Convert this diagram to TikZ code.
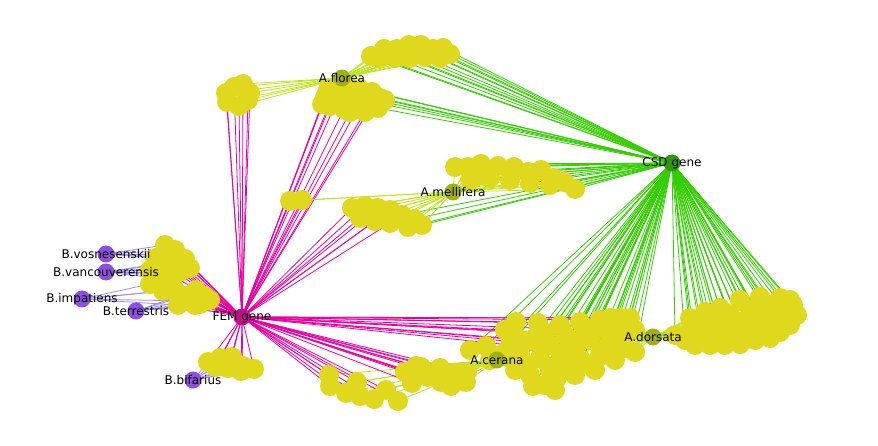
\documentclass[tikz,border=0pt]{standalone}
\usepackage{fontspec}
\setmainfont{DejaVu Sans}
\usepackage{tikz}
\usetikzlibrary{backgrounds}
\definecolor{leafyellow}{HTML}{DFD81C}
\definecolor{femnode}{HTML}{C0108A}
\definecolor{femedge}{HTML}{E800A0}
\definecolor{csdnode}{HTML}{2E9A0A}
\definecolor{csdedge}{HTML}{33CC00}
\definecolor{apisnode}{HTML}{A2B010}
\definecolor{apisedge}{HTML}{BCE414}
\definecolor{bombnode}{HTML}{8E4FE0}
\definecolor{bombedge}{HTML}{9C8CF0}
\tikzset{
	leaf/.style={circle, fill=leafyellow, minimum size=20pt, inner sep=0pt},
	hub/.style={circle, minimum size=17pt, inner sep=0pt, label={[font=\fontsize{12}{14}\selectfont, text=black]center:#1}},
	gene fem/.style={hub=#1, fill=femnode},
	gene csd/.style={hub=#1, fill=csdnode},
	apis/.style={hub=#1, fill=apisnode},
	bomb/.style={hub=#1, fill=bombnode},
	e-fem/.style={femedge, line width=0.8pt},
	e-csd/.style={csdedge, line width=0.8pt},
	apis edge/.style={apisedge, line width=0.8pt},
	bomb edge/.style={bombedge, line width=0.8pt},
	e-flo/.style={apis edge}, e-mel/.style={apis edge}, e-cer/.style={apis edge}, e-dor/.style={apis edge},
	e-vos/.style={bomb edge}, e-van/.style={bomb edge}, e-imp/.style={bomb edge}, e-ter/.style={bomb edge}, e-bif/.style={bomb edge}
}
% leaves: x/y/species/gene
\def\leaflist{%
371/56/flo/csd, 384/49/flo/csd, 397/49/flo/csd, 409/45/flo/csd, 421/45/flo/csd, 433/49/flo/csd, 443/48/flo/csd, 450/54/flo/csd, 380/58/flo/csd, 395/58/flo/csd, 410/58/flo/csd, 425/57/flo/csd, 440/58/flo/csd,
325/97/flo/fem, 336/88/flo/fem, 348/86/flo/csd, 360/89/flo/csd, 372/92/flo/csd, 380/98/flo/csd, 330/106/flo/fem, 344/109/flo/fem, 358/108/flo/fem, 372/105/flo/fem, 352/98/flo/csd, 338/98/flo/fem, 365/98/flo/csd,
328/90/flo/fem, 378/108/flo/csd, 385/100/flo/csd, 350/112/flo/fem, 365/112/flo/fem, 322/104/flo/fem,
226/93/flo/fem, 234/87/flo/fem, 243/84/flo/fem, 250/93/flo/fem, 227/102/flo/fem, 239/106/flo/fem, 248/100/flo/fem,
290/201/mel/fem, 302/200/mel/fem,
455/167/mel/csd, 468/167/mel/csd, 481/164/mel/csd, 498/166/mel/csd, 514/167/mel/csd, 528/172/mel/csd, 541/170/mel/csd, 553/178/mel/csd, 564/182/mel/csd, 575/189/mel/csd, 470/180/mel/csd, 490/178/mel/csd, 510/180/mel/csd, 530/183/mel/csd, 550/185/mel/csd, 480/175/mel/csd,
352/208/mel/fem, 365/206/mel/fem, 378/208/mel/fem, 390/210/mel/fem, 402/215/mel/csd, 414/219/mel/csd, 422/225/mel/csd, 360/218/mel/fem, 375/221/mel/fem, 390/223/mel/fem, 408/227/mel/csd,
165/245/vos/fem, 175/250/vos/fem, 185/259/vos/fem, 155/258/vos/fem, 170/262/van/fem, 180/272/van/fem, 158/275/van/fem, 172/280/van/fem, 150/284/imp/fem, 163/291/imp/fem, 185/296/ter/fem, 196/290/ter/fem, 205/296/ter/fem, 187/301/imp/fem, 200/304/ter/fem,
165/255/vos/fem, 178/262/van/fem, 160/268/van/fem, 175/290/imp/fem, 190/268/van/fem, 195/305/ter/fem, 210/300/ter/fem, 178/305/imp/fem, 150/270/van/fem,
208/362/bif/fem, 220/358/bif/fem, 232/357/bif/fem, 243/366/bif/fem, 254/369/bif/fem, 216/367/bif/fem, 228/368/bif/fem, 241/371/bif/fem,
329/375/cer/fem, 330/386/cer/fem, 346/393/cer/fem, 357/382/cer/fem, 360/396/cer/fem, 374/399/cer/fem, 386/390/cer/fem, 398/401/cer/fem, 405/372/cer/fem, 416/366/cer/fem, 428/377/cer/fem, 441/382/cer/fem, 451/386/cer/fem, 466/382/cer/fem, 412/383/cer/fem, 421/367/cer/fem, 455/373/cer/fem, 467/372/cer/fem, 440/368/cer/fem,
470/350/cer/csd, 486/346/cer/csd, 500/355/cer/csd, 515/370/cer/csd, 520/355/cer/csd, 530/375/cer/csd, 533/386/cer/csd, 540/358/cer/csd, 550/370/cer/csd, 557/378/cer/csd, 560/360/cer/csd, 570/368/cer/csd, 580/358/cer/csd, 590/365/cer/csd,
540/345/cer/csd, 555/390/cer/csd, 545/385/cer/csd, 575/375/cer/csd, 565/352/cer/csd, 490/360/cer/csd, 525/365/cer/csd,
516/322/cer/fem, 530/340/cer/fem, 538/323/cer/fem, 550/345/cer/fem, 520/340/cer/fem, 505/330/cer/fem, 545/333/cer/fem, 510/345/cer/fem,
560/325/dor/csd, 570/340/dor/csd, 580/322/dor/csd, 590/340/dor/csd, 600/355/dor/csd, 610/342/dor/csd, 615/360/dor/csd, 625/348/dor/csd, 635/352/dor/csd, 635/330/dor/csd,
595/330/dor/csd, 610/330/dor/csd, 625/335/dor/csd, 575/350/dor/csd, 605/350/dor/csd, 620/325/dor/csd, 595/370/dor/csd, 630/318/dor/csd,
600/320/dor/fem, 620/318/dor/fem, 585/330/dor/fem, 565/335/dor/fem, 610/318/dor/fem,
690/318/dor/csd, 705/312/dor/csd, 720/308/dor/csd, 740/300/dor/csd, 760/297/dor/csd, 780/298/dor/csd, 793/305/dor/csd, 797/315/dor/csd, 790/325/dor/csd, 780/332/dor/csd, 770/338/dor/csd, 755/340/dor/csd, 740/344/dor/csd, 725/345/dor/csd, 710/345/dor/csd, 695/345/dor/csd, 685/340/dor/csd, 675/335/dor/csd, 700/330/dor/csd, 720/328/dor/csd, 740/322/dor/csd, 760/318/dor/csd, 775/315/dor/csd, 735/330/dor/csd, 755/328/dor/csd,
700/320/dor/csd, 715/320/dor/csd, 730/315/dor/csd, 750/310/dor/csd, 770/305/dor/csd, 785/310/dor/csd, 765/325/dor/csd, 745/335/dor/csd, 715/338/dor/csd, 730/338/dor/csd, 690/332/dor/csd, 790/300/dor/csd}

\begin{document}
\begin{tikzpicture}[x=1pt, y=-1pt]
	\useasboundingbox (0,0) rectangle (878,446);

	% leaf nodes
	\foreach \x/\y/\s/\g [count=\i] in \leaflist
		\node[leaf] (l\i) at (\x,\y) {};

	% gene and species hubs
	\node[gene fem=FEM gene] (fem) at (242,317) {};
	\node[gene csd=CSD gene] (csd) at (672,163) {};
	\node[apis=A.florea] (flo) at (342,78) {};
	\node[apis=A.mellifera] (mel) at (453,192) {};
	\node[apis=A.cerana] (cer) at (497,360) {};
	\node[apis=A.dorsata] (dor) at (653,337) {};
	\node[bomb=B.vosnesenskii] (vos) at (106,254) {};
	\node[bomb=B.vancouverensis] (van) at (106,272) {};
	\node[bomb=B.impatiens] (imp) at (82,299) {};
	\node[bomb=B.terrestris] (ter) at (136,311) {};
	\node[bomb=B.bifarius] (bif) at (193,380) {};

	% edges behind the nodes
	\begin{scope}[on background layer]
		\foreach \x/\y/\s/\g [count=\i] in \leaflist {
			\draw[e-\g] (l\i.center) -- (\g.center);
			\draw[e-\s] (l\i.center) -- (\s.center);
		}
	\end{scope}
\end{tikzpicture}
\end{document}
